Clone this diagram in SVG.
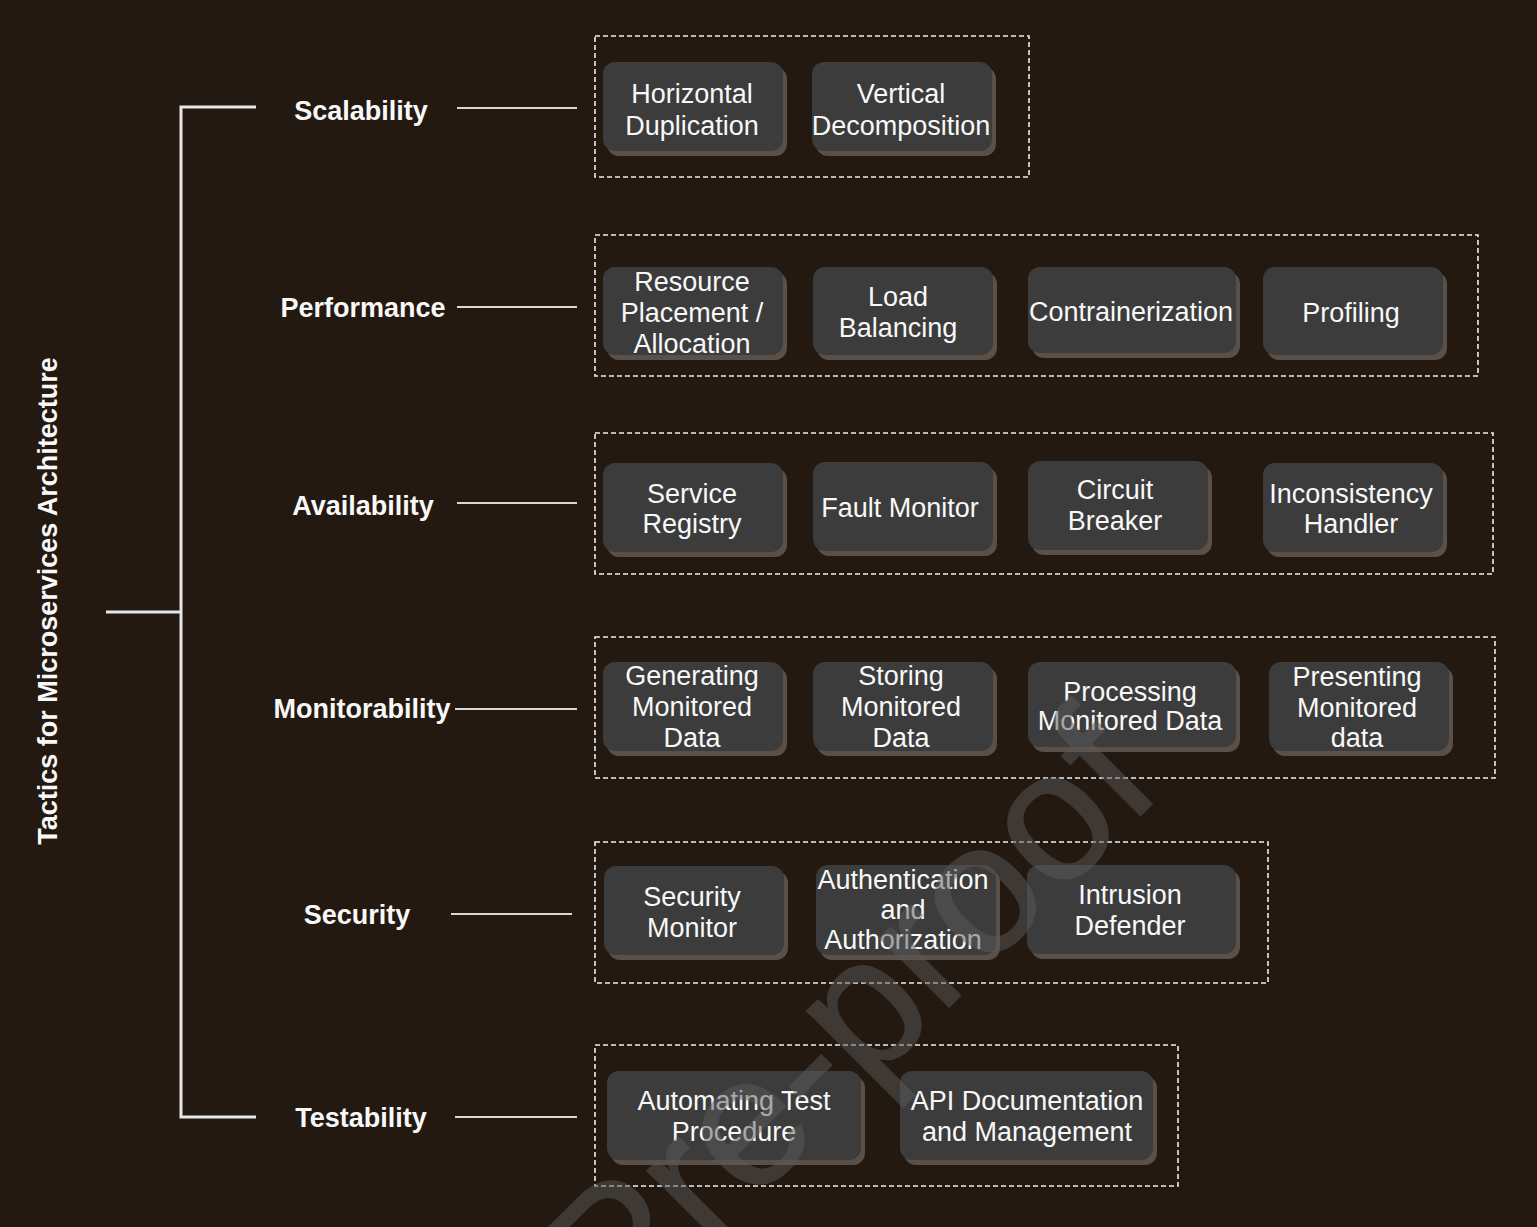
<svg xmlns="http://www.w3.org/2000/svg" width="1537" height="1227" viewBox="0 0 1537 1227">
<style>
.bg{fill:#231910}
.tree{stroke:#e6e6e6;stroke-width:3;fill:none}
.link{stroke:#d8d8d8;stroke-width:2;fill:none}
.grp{fill:none;stroke:#eeeeee;stroke-width:1.6;stroke-dasharray:5 3}
.face{fill:#3c3c3c}
.shadow{fill:#5a5047}
.t{font-family:"Liberation Sans",Arial,Helvetica,sans-serif;font-size:27px;fill:#f8f8f8;text-anchor:middle}
.cat{font-family:"Liberation Sans",Arial,Helvetica,sans-serif;font-size:27px;font-weight:bold;fill:#f8f8f8;text-anchor:middle}
.wm{font-family:"Liberation Sans",Arial,Helvetica,sans-serif;font-size:185px;fill:#5a5a5a;stroke:#5a5a5a;stroke-width:1.5}
</style>
<rect class="bg" x="0" y="0" width="1537" height="1227"/>

<g id="title">
<text class="cat" x="57" y="601" transform="rotate(-90 57 601)">Tactics for Microservices Architecture</text>
</g>

<g id="connectors">
<polyline class="tree" points="256,107 181,107 181,1117 256,1117"/>
<line class="tree" x1="106" y1="612" x2="181" y2="612"/>
<line class="link" x1="457" y1="108" x2="577" y2="108"/>
<line class="link" x1="457" y1="307" x2="577" y2="307"/>
<line class="link" x1="457" y1="503" x2="577" y2="503"/>
<line class="link" x1="455" y1="709" x2="577" y2="709"/>
<line class="link" x1="451" y1="914" x2="572" y2="914"/>
<line class="link" x1="455" y1="1117" x2="577" y2="1117"/>
</g>

<g id="cat-scalability"><text class="cat" x="361" y="120">Scalability</text></g>
<g id="cat-performance"><text class="cat" x="363" y="317">Performance</text></g>
<g id="cat-availability"><text class="cat" x="363" y="515">Availability</text></g>
<g id="cat-monitorability"><text class="cat" x="362" y="718">Monitorability</text></g>
<g id="cat-security"><text class="cat" x="357" y="924">Security</text></g>
<g id="cat-testability"><text class="cat" x="361" y="1127">Testability</text></g>

<g id="grp-scalability"><rect class="grp" x="595" y="36" width="434" height="141"/></g>
<g id="grp-performance"><rect class="grp" x="595" y="235" width="883" height="141"/></g>
<g id="grp-availability"><rect class="grp" x="595" y="433" width="898" height="141"/></g>
<g id="grp-monitorability"><rect class="grp" x="595" y="637" width="900" height="141"/></g>
<g id="grp-security"><rect class="grp" x="595" y="842" width="673" height="141"/></g>
<g id="grp-testability"><rect class="grp" x="595" y="1045" width="583" height="141"/></g>

<g id="n-horizontal-duplication">
<rect class="shadow" x="607" y="67" width="180" height="89" rx="12"/>
<rect class="face" x="603" y="62" width="180" height="89" rx="12"/>
<text class="t" x="692" y="103">Horizontal</text><text class="t" x="692" y="135">Duplication</text>
</g>
<g id="n-vertical-decomposition">
<rect class="shadow" x="816" y="67" width="180" height="89" rx="12"/>
<rect class="face" x="812" y="62" width="180" height="89" rx="12"/>
<text class="t" x="901" y="103">Vertical</text><text class="t" x="901" y="135">Decomposition</text>
</g>

<g id="n-resource-placement">
<rect class="shadow" x="607" y="272" width="180" height="88" rx="12"/>
<rect class="face" x="603" y="267" width="180" height="88" rx="12"/>
<text class="t" x="692" y="291">Resource</text><text class="t" x="692" y="322">Placement /</text><text class="t" x="692" y="353">Allocation</text>
</g>
<g id="n-load-balancing">
<rect class="shadow" x="817" y="272" width="180" height="88" rx="12"/>
<rect class="face" x="813" y="267" width="180" height="88" rx="12"/>
<text class="t" x="898" y="306">Load</text><text class="t" x="898" y="337">Balancing</text>
</g>
<g id="n-contrainerization">
<rect class="shadow" x="1032" y="272" width="208" height="86" rx="12"/>
<rect class="face" x="1028" y="267" width="208" height="86" rx="12"/>
<text class="t" x="1131" y="321">Contrainerization</text>
</g>
<g id="n-profiling">
<rect class="shadow" x="1267" y="272" width="180" height="88" rx="12"/>
<rect class="face" x="1263" y="267" width="180" height="88" rx="12"/>
<text class="t" x="1351" y="322">Profiling</text>
</g>

<g id="n-service-registry">
<rect class="shadow" x="607" y="468" width="180" height="89" rx="12"/>
<rect class="face" x="603" y="463" width="180" height="89" rx="12"/>
<text class="t" x="692" y="503">Service</text><text class="t" x="692" y="533">Registry</text>
</g>
<g id="n-fault-monitor">
<rect class="shadow" x="817" y="467" width="180" height="89" rx="12"/>
<rect class="face" x="813" y="462" width="180" height="89" rx="12"/>
<text class="t" x="900" y="517">Fault Monitor</text>
</g>
<g id="n-circuit-breaker">
<rect class="shadow" x="1032" y="466" width="180" height="89" rx="12"/>
<rect class="face" x="1028" y="461" width="180" height="89" rx="12"/>
<text class="t" x="1115" y="499">Circuit</text><text class="t" x="1115" y="530">Breaker</text>
</g>
<g id="n-inconsistency-handler">
<rect class="shadow" x="1267" y="468" width="180" height="89" rx="12"/>
<rect class="face" x="1263" y="463" width="180" height="89" rx="12"/>
<text class="t" x="1351" y="503">Inconsistency</text><text class="t" x="1351" y="533">Handler</text>
</g>

<g id="n-generating">
<rect class="shadow" x="607" y="667" width="180" height="89" rx="12"/>
<rect class="face" x="603" y="662" width="180" height="89" rx="12"/>
<text class="t" x="692" y="685">Generating</text><text class="t" x="692" y="716">Monitored</text><text class="t" x="692" y="747">Data</text>
</g>
<g id="n-storing">
<rect class="shadow" x="817" y="667" width="180" height="89" rx="12"/>
<rect class="face" x="813" y="662" width="180" height="89" rx="12"/>
<text class="t" x="901" y="685">Storing</text><text class="t" x="901" y="716">Monitored</text><text class="t" x="901" y="747">Data</text>
</g>
<g id="n-processing">
<rect class="shadow" x="1032" y="667" width="208" height="85" rx="12"/>
<rect class="face" x="1028" y="662" width="208" height="85" rx="12"/>
<text class="t" x="1130" y="701">Processing</text><text class="t" x="1130" y="730">Monitored Data</text>
</g>
<g id="n-presenting">
<rect class="shadow" x="1273" y="667" width="180" height="89" rx="12"/>
<rect class="face" x="1269" y="662" width="180" height="89" rx="12"/>
<text class="t" x="1357" y="686">Presenting</text><text class="t" x="1357" y="717">Monitored</text><text class="t" x="1357" y="747">data</text>
</g>

<g id="n-security-monitor">
<rect class="shadow" x="608" y="871" width="180" height="89" rx="12"/>
<rect class="face" x="604" y="866" width="180" height="89" rx="12"/>
<text class="t" x="692" y="906">Security</text><text class="t" x="692" y="937">Monitor</text>
</g>
<g id="n-authentication">
<rect class="shadow" x="820" y="870" width="180" height="90" rx="12"/>
<rect class="face" x="816" y="865" width="180" height="90" rx="12"/>
<text class="t" x="903" y="889">Authentication</text><text class="t" x="903" y="919">and</text><text class="t" x="903" y="949">Authorization</text>
</g>
<g id="n-intrusion-defender">
<rect class="shadow" x="1031" y="870" width="209" height="89" rx="12"/>
<rect class="face" x="1027" y="865" width="209" height="89" rx="12"/>
<text class="t" x="1130" y="904">Intrusion</text><text class="t" x="1130" y="935">Defender</text>
</g>

<g id="n-automating-test">
<rect class="shadow" x="611" y="1076" width="254" height="89" rx="12"/>
<rect class="face" x="607" y="1071" width="254" height="89" rx="12"/>
<text class="t" x="734" y="1110">Automating Test</text><text class="t" x="734" y="1141">Procedure</text>
</g>
<g id="n-api-documentation">
<rect class="shadow" x="904" y="1076" width="253" height="89" rx="12"/>
<rect class="face" x="900" y="1071" width="253" height="89" rx="12"/>
<text class="t" x="1027" y="1110">API Documentation</text><text class="t" x="1027" y="1141">and Management</text>
</g>

<g id="watermark" opacity="0.5">
<text class="wm" x="620" y="1336" transform="rotate(-45 620 1336)">Pre-proof</text>
</g>
</svg>
